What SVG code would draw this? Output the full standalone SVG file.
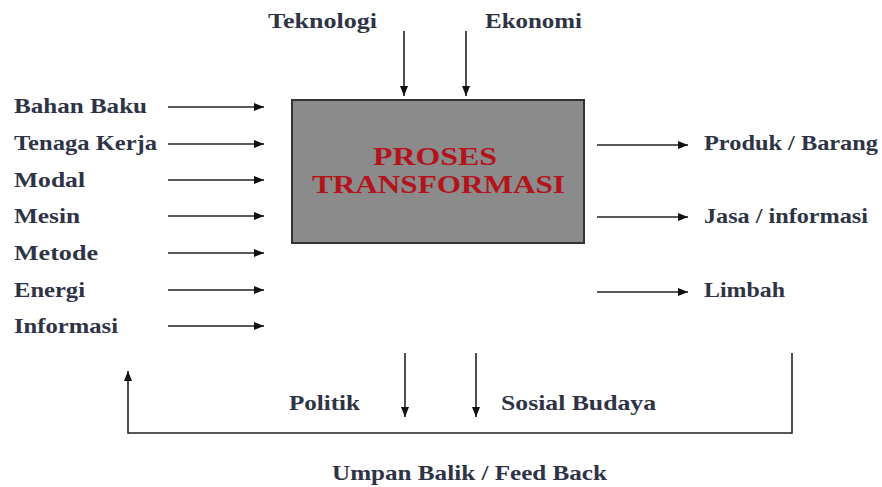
<svg xmlns="http://www.w3.org/2000/svg" width="882" height="487" viewBox="0 0 882 487">
<style>
.lbl{font-family:"Liberation Serif","Times New Roman",serif;font-weight:bold;font-size:21px;fill:#2e3446}
.title{font-family:"Liberation Serif","Times New Roman",serif;font-weight:bold;font-size:25px;fill:#b3141c}
.ln{stroke:#222;stroke-width:1.6;fill:none}
</style>
<defs>
<marker id="ah" viewBox="0 0 10 8" refX="10" refY="4" markerWidth="10" markerHeight="8" markerUnits="userSpaceOnUse" orient="auto">
<path d="M0,0 L10,4 L0,8 Z" fill="#111"/>
</marker>
</defs>
<rect width="882" height="487" fill="#fff"/>
<g id="proses">
<rect x="292" y="100" width="292" height="143" fill="#8b8b8b" stroke="#333" stroke-width="2"/>
<text class="title" x="373" y="165" textLength="124" lengthAdjust="spacingAndGlyphs">PROSES</text>
<text class="title" x="312" y="193" textLength="253" lengthAdjust="spacingAndGlyphs">TRANSFORMASI</text>
</g>
<g id="inputs">
<text class="lbl" x="14" y="113" textLength="133" lengthAdjust="spacingAndGlyphs">Bahan Baku</text>
<text class="lbl" x="14" y="150" textLength="143" lengthAdjust="spacingAndGlyphs">Tenaga Kerja</text>
<text class="lbl" x="14" y="187" textLength="71" lengthAdjust="spacingAndGlyphs">Modal</text>
<text class="lbl" x="14" y="223" textLength="66" lengthAdjust="spacingAndGlyphs">Mesin</text>
<text class="lbl" x="14" y="260" textLength="84" lengthAdjust="spacingAndGlyphs">Metode</text>
<text class="lbl" x="14" y="297" textLength="71" lengthAdjust="spacingAndGlyphs">Energi</text>
<text class="lbl" x="14" y="333" textLength="104" lengthAdjust="spacingAndGlyphs">Informasi</text>
</g>
<g id="env-top">
<text class="lbl" x="268" y="28" textLength="109" lengthAdjust="spacingAndGlyphs">Teknologi</text>
<text class="lbl" x="485" y="28" textLength="97" lengthAdjust="spacingAndGlyphs">Ekonomi</text>
</g>
<g id="outputs">
<text class="lbl" x="704" y="150" textLength="174" lengthAdjust="spacingAndGlyphs">Produk / Barang</text>
<text class="lbl" x="704" y="223" textLength="164" lengthAdjust="spacingAndGlyphs">Jasa / informasi</text>
<text class="lbl" x="704" y="297" textLength="81" lengthAdjust="spacingAndGlyphs">Limbah</text>
</g>
<g id="env-bottom">
<text class="lbl" x="289" y="410" textLength="71" lengthAdjust="spacingAndGlyphs">Politik</text>
<text class="lbl" x="501" y="410" textLength="155" lengthAdjust="spacingAndGlyphs">Sosial Budaya</text>
</g>
<g id="feedback">
<text class="lbl" x="332" y="480" textLength="275" lengthAdjust="spacingAndGlyphs">Umpan Balik / Feed Back</text>
</g>
<g id="connectors" class="ln">
<line class="ln" x1="168" y1="107" x2="264" y2="107" marker-end="url(#ah)"/>
<line class="ln" x1="168" y1="144" x2="264" y2="144" marker-end="url(#ah)"/>
<line class="ln" x1="168" y1="180" x2="264" y2="180" marker-end="url(#ah)"/>
<line class="ln" x1="168" y1="216" x2="264" y2="216" marker-end="url(#ah)"/>
<line class="ln" x1="168" y1="253" x2="264" y2="253" marker-end="url(#ah)"/>
<line class="ln" x1="168" y1="290" x2="264" y2="290" marker-end="url(#ah)"/>
<line class="ln" x1="168" y1="326" x2="264" y2="326" marker-end="url(#ah)"/>
<line class="ln" x1="404" y1="31" x2="404" y2="96" marker-end="url(#ah)"/>
<line class="ln" x1="466" y1="31" x2="466" y2="96" marker-end="url(#ah)"/>
<line class="ln" x1="597" y1="145" x2="688" y2="145" marker-end="url(#ah)"/>
<line class="ln" x1="597" y1="217" x2="688" y2="217" marker-end="url(#ah)"/>
<line class="ln" x1="597" y1="292" x2="688" y2="292" marker-end="url(#ah)"/>
<line class="ln" x1="405" y1="353" x2="405" y2="417" marker-end="url(#ah)"/>
<line class="ln" x1="476" y1="353" x2="476" y2="417" marker-end="url(#ah)"/>
<path class="ln" d="M792,353 L792,433 L128,433 L128,371" marker-end="url(#ah)"/>
</g>
</svg>
